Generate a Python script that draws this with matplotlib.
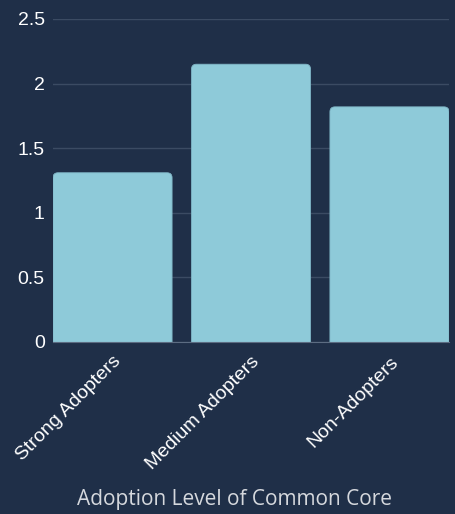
import matplotlib
matplotlib.use("Agg")
import matplotlib.pyplot as plt
from matplotlib.patches import FancyBboxPatch

categories = ["Strong Adopters", "Medium Adopters", "Non-Adopters"]
values = [1.31, 2.15, 1.82]
yticks = [0, 0.5, 1, 1.5, 2, 2.5]
ytick_labels = ["0", "0.5", "1", "1.5", "2", "2.5"]

bg = "#1f2f48"
bar_color = "#8ecad9"
width = 0.86

fig = plt.figure(figsize=(4.55, 5.14), dpi=100, facecolor=bg)
ax = fig.add_axes([53 / 455, 1 - 342 / 514, 396 / 455, 323 / 514], facecolor=bg)

bars = ax.bar(range(len(values)), values, width=width, color=bar_color)
# swap plain bars for ones with rounded tops
for b in bars:
    x0, w, h = b.get_x(), b.get_width(), b.get_height()
    b.remove()
    ax.add_patch(FancyBboxPatch((x0, -0.2), w, h + 0.2,
                                boxstyle="round,pad=0,rounding_size=0.036",
                                mutation_aspect=1.07, fc=bar_color,
                                ec="#7fb5c6", lw=0.6, zorder=3))

ax.set_xlim(-width / 2, len(values) - 1 + width / 2)
ax.set_ylim(0, 2.5)
ax.set_yticks(yticks)
ax.set_yticklabels(ytick_labels)
ax.set_xticks(range(len(categories)))
ax.set_xticklabels(categories, rotation=45, ha="right", rotation_mode="anchor")

ax.grid(axis="y", color="#3b4b63", lw=1, zorder=0)
ax.set_axisbelow(True)
for s in ["top", "right", "left"]:
    ax.spines[s].set_visible(False)
ax.spines["bottom"].set_color("#5c6c82")
ax.spines["bottom"].set_zorder(4)
ax.tick_params(axis="both", length=0, colors="white", labelsize=14,
               labelfontfamily="Liberation Sans")
ax.tick_params(axis="y", pad=6)
ax.tick_params(axis="x", pad=8)

fig.text(234.5 / 455, 1 - 499 / 514, "Adoption Level of Common Core",
         ha="center", va="center", color="#d5d8dd", fontsize=15,
         family="Open Sans")

fig.savefig("out.png", dpi=100, facecolor=bg)
